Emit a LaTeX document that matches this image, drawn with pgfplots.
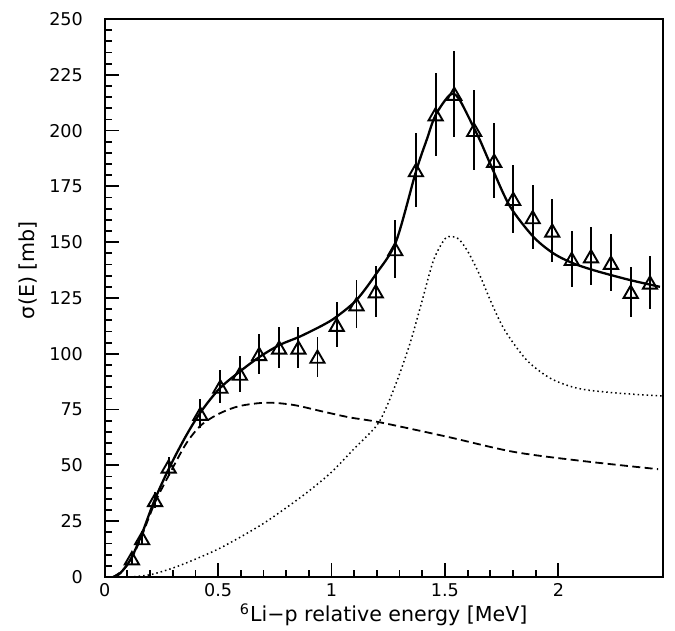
\documentclass[border=0pt]{standalone}
\usepackage{pgfplots}
\usepackage{pgfplotstable}
\pgfplotsset{compat=1.18}
\usepackage{fontspec}
\setmainfont{DejaVu Sans}

\pgfplotstableread{
x y e
0.120 8.4 2.5
0.165 17.4 3.0
0.222 34.5 3.5
0.282 49.5 4.3
0.422 73.1 6.5
0.510 85.3 7.5
0.596 91.1 8.1
0.681 99.9 9.0
0.769 102.8 9.3
0.854 102.8 9.3
0.938 98.7 9.0
1.023 113.0 10.1
1.110 122.2 10.8
1.195 128.0 11.4
1.281 146.9 13.0
1.372 182.3 16.4
1.459 207.3 18.7
1.541 216.5 19.3
1.629 200.3 17.9
1.717 186.5 16.8
1.801 169.4 15.2
1.887 161.2 14.4
1.973 155.2 14.0
2.059 142.5 12.7
2.144 143.7 12.9
2.232 140.8 12.7
2.319 127.8 11.2
2.404 131.9 12.0
}\datatable

\pgfplotstableread{
x y
0.037 0
0.06 1
0.08 3
0.117 8.4
0.162 18.8
0.22 34.5
0.287 49.4
0.36 63.5
0.426 74.3
0.507 84.5
0.595 92
0.684 98.7
0.772 104
0.86 107.7
0.963 112.9
1.022 116.6
1.11 124.1
1.198 136
1.284 150.2
1.372 181.6
1.42 196
1.459 207
1.522 216
1.56 214.5
1.625 201.8
1.654 195.8
1.713 182
1.787 166
1.889 152.5
1.978 145
2.066 140.5
2.154 137.5
2.242 135
2.33 132.7
2.448 130
}\totaltable

\pgfplotstableread{
x y
0.037 0
0.08 3
0.117 8
0.162 18
0.22 33
0.287 46.4
0.36 59.9
0.426 68.1
0.507 73.3
0.595 76.6
0.713 78.1
0.831 77.1
0.963 74.1
1.08 71.5
1.213 69.3
1.507 62.9
1.801 56.1
2.095 52.1
2.44 48.3
}\dashtable

\pgfplotstableread{
x y
0.11 0
0.2 1
0.3 4
0.4 8
0.5 12.5
0.6 18
0.7 24
0.8 31
0.9 38.5
1.0 47
1.1 57.5
1.2 68
1.25 78
1.3 91
1.35 106
1.4 124
1.45 142
1.5 151.5
1.53 152.5
1.56 151.5
1.6 146
1.65 136
1.7 124
1.75 113
1.8 105
1.86 97.2
1.92 92
1.978 88.3
2.05 85.5
2.125 83.8
2.272 82.3
2.456 81.1
}\dottable

\begin{document}
\begin{tikzpicture}
\begin{axis}[
  at={(0,0)}, anchor=south west,
  scale only axis,
  width=279pt, height=279pt,
  xmin=0, xmax=2.46,
  ymin=0, ymax=250,
  axis line style={line width=1pt},
  tick align=inside,
  xtick pos=left, ytick pos=left,
  xtick={0,0.5,1,1.5,2},
  xticklabels={0,0.5,1,1.5,2},
  ytick={0,25,...,250},
  minor x tick num=4,
  minor y tick num=4,
  major tick length=7pt,
  minor tick length=3.5pt,
  every tick/.style={line width=0.9pt, black},
  /pgf/number format/assume math mode=true,
  tick label style={font=\fontsize{8.8}{10}\selectfont, inner sep=0pt},
  yticklabel style={anchor=east, xshift=-10.7pt},
  xticklabel style={anchor=north, yshift=-3pt},
  xlabel={\textsuperscript{6}Li\char"2212 p relative energy [MeV]},
  ylabel={σ(E) [mb]},
  label style={font=\fontsize{10.3}{12}\selectfont},
  x label style={at={(axis description cs:0.5,-0.0806)}, anchor=base},
  y label style={at={(axis description cs:-0.1375,0.55)}, anchor=center},
]
\addplot[black, line width=1.15pt, smooth, tension=0.5] table[x=x,y=y] {\totaltable};
\addplot[black, line width=0.9pt, smooth, dash pattern=on 4pt off 2.2pt] table[x=x,y=y] {\dashtable};
\addplot[black, line width=0.75pt, smooth, dash pattern=on 0.75pt off 1.5pt] table[x=x,y=y] {\dottable};
\addplot[black, only marks, mark=triangle, mark size=4.1pt,
  mark options={solid, line width=0.95pt, yshift=-1pt},
  error bars/.cd, y dir=both, y explicit, error mark=none,
  error bar style={line width=0.95pt, solid}]
  table[x=x,y=y,y error=e] {\datatable};
\end{axis}
\pgfresetboundingbox
\path (-52.35pt,-27pt) rectangle (285.15pt,288.5pt);
\end{tikzpicture}
\end{document}
